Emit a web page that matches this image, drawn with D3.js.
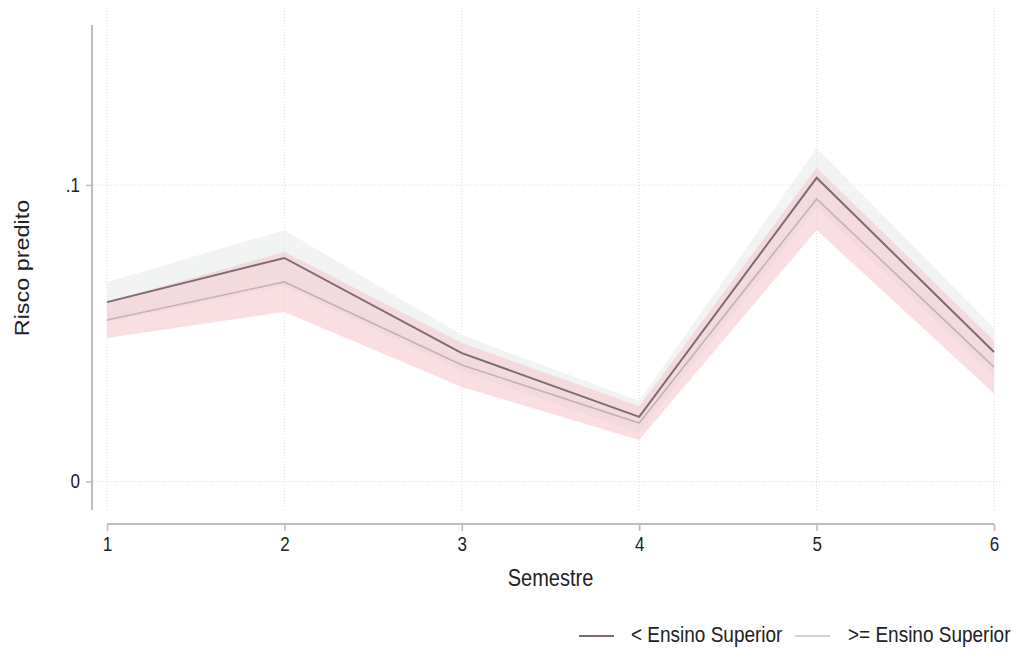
<!DOCTYPE html>
<html><head><meta charset="utf-8">
<script src="https://cdn.jsdelivr.net/npm/d3@7"></script>
<style>body{margin:0;background:#fff}svg{display:block}text{font-family:"Liberation Sans",Arial,sans-serif;fill:#222}</style>
</head><body>
<svg id="c" width="1019" height="651"></svg>
<script>
const semesters = [1,2,3,4,5,6];
const xTicks = [1,2,3,4,5,6];
const yTicks = [0, 0.1];
const yTickLabels = ["0", ".1"];
const seriesNames = ["< Ensino Superior", ">= Ensino Superior"];
const lowEst = [0.0605, 0.0754, 0.0433, 0.0218, 0.1024, 0.0437];
const lowLo  = [0.0537, 0.0660, 0.0372, 0.0164, 0.0923, 0.0356];
const lowHi  = [0.0673, 0.0848, 0.0494, 0.0272, 0.1125, 0.0518];
const highEst = [0.0545, 0.0673, 0.0393, 0.0197, 0.0953, 0.0386];
const highLo  = [0.0484, 0.0572, 0.0319, 0.0140, 0.0848, 0.0297];
const highHi  = [0.0606, 0.0774, 0.0467, 0.0254, 0.1058, 0.0475];

const SY = 1.17; // vertical stretch of the reference glyphs
const svg = d3.select("#c");
const x = d3.scaleLinear().domain([1,6]).range([107,994]);
const y = d3.scaleLinear().domain([0,0.1]).range([481.5,185]);

// gridlines
const g = svg.append("g");
xTicks.forEach(t=>g.append("line").attr("x1",x(t)).attr("x2",x(t)).attr("y1",8).attr("y2",510)
  .attr("stroke","#dcdcdc").attr("stroke-width",1).attr("stroke-dasharray","1,2"));
yTicks.forEach(t=>g.append("line").attr("x1",93).attr("x2",1005).attr("y1",y(t)).attr("y2",y(t))
  .attr("stroke","#dcdcdc").attr("stroke-width",1).attr("stroke-dasharray","1,2"));

const area = (lo,hi)=>d3.area().x((d,i)=>x(semesters[i])).y0((d,i)=>y(lo[i])).y1((d,i)=>y(hi[i]))(semesters);
const line = (v)=>d3.line().x((d,i)=>x(semesters[i])).y((d,i)=>y(v[i]))(semesters);

svg.append("path").attr("d",area(lowLo,lowHi)).attr("fill","#e8eaea").attr("fill-opacity",0.55);
svg.append("path").attr("d",area(highLo,highHi)).attr("fill","#f5c3ca").attr("fill-opacity",0.55);
svg.append("path").attr("d",line(lowEst)).attr("fill","none").attr("stroke","#7d6b72").attr("stroke-width",2);
svg.append("path").attr("d",line(highEst)).attr("fill","none").attr("stroke","#c4b2b6").attr("stroke-width",1.6);

// y axis
const ya = svg.append("g").attr("transform","translate(92,0)")
  .call(d3.axisLeft(y).tickValues(yTicks).tickFormat((d,i)=>yTickLabels[i]).tickSize(6).tickPadding(6));
ya.select(".domain").remove();
ya.append("line").attr("x1",0).attr("x2",0).attr("y1",25).attr("y2",510).attr("stroke","#bdbdbd").attr("stroke-width",2);
ya.selectAll(".tick line").attr("stroke","#bdbdbd").attr("stroke-width",1.5);
ya.selectAll(".tick text").style("font-size","17px").attr("fill","#222").attr("transform",`scale(1,${SY})`);

// x axis
const xa = svg.append("g").attr("transform","translate(0,524)")
  .call(d3.axisBottom(x).tickValues(xTicks).tickFormat(d3.format("d")).tickSize(7).tickPadding(4));
xa.select(".domain").remove();
xa.append("line").attr("x1",x(1)).attr("x2",x(6)).attr("y1",0).attr("y2",0).attr("stroke","#bdbdbd").attr("stroke-width",2);
xa.selectAll(".tick line").attr("stroke","#bdbdbd").attr("stroke-width",1.5);
xa.selectAll(".tick text").style("font-size","17px").attr("fill","#222").attr("transform",`scale(1,${SY})`);

svg.append("text").attr("transform",`translate(${x(3.5)},586) scale(1,${SY})`).attr("text-anchor","middle").style("font-size","20px").text("Semestre");
svg.append("text").attr("transform",`translate(29,268) rotate(-90) scale(${SY},1)`).attr("text-anchor","middle").style("font-size","20px").text("Risco predito");

// legend
const lg = svg.append("g");
lg.append("line").attr("x1",579).attr("x2",614).attr("y1",636).attr("y2",636).attr("stroke","#7d6b72").attr("stroke-width",2);
lg.append("text").attr("transform",`translate(631,642) scale(1,${SY})`).style("font-size","19px").text(seriesNames[0]);
lg.append("line").attr("x1",795).attr("x2",830).attr("y1",636).attr("y2",636).attr("stroke","#d2d2d2").attr("stroke-width",2);
lg.append("text").attr("transform",`translate(848,642) scale(1,${SY})`).style("font-size","19px").text(seriesNames[1]);
</script>
</body></html>
